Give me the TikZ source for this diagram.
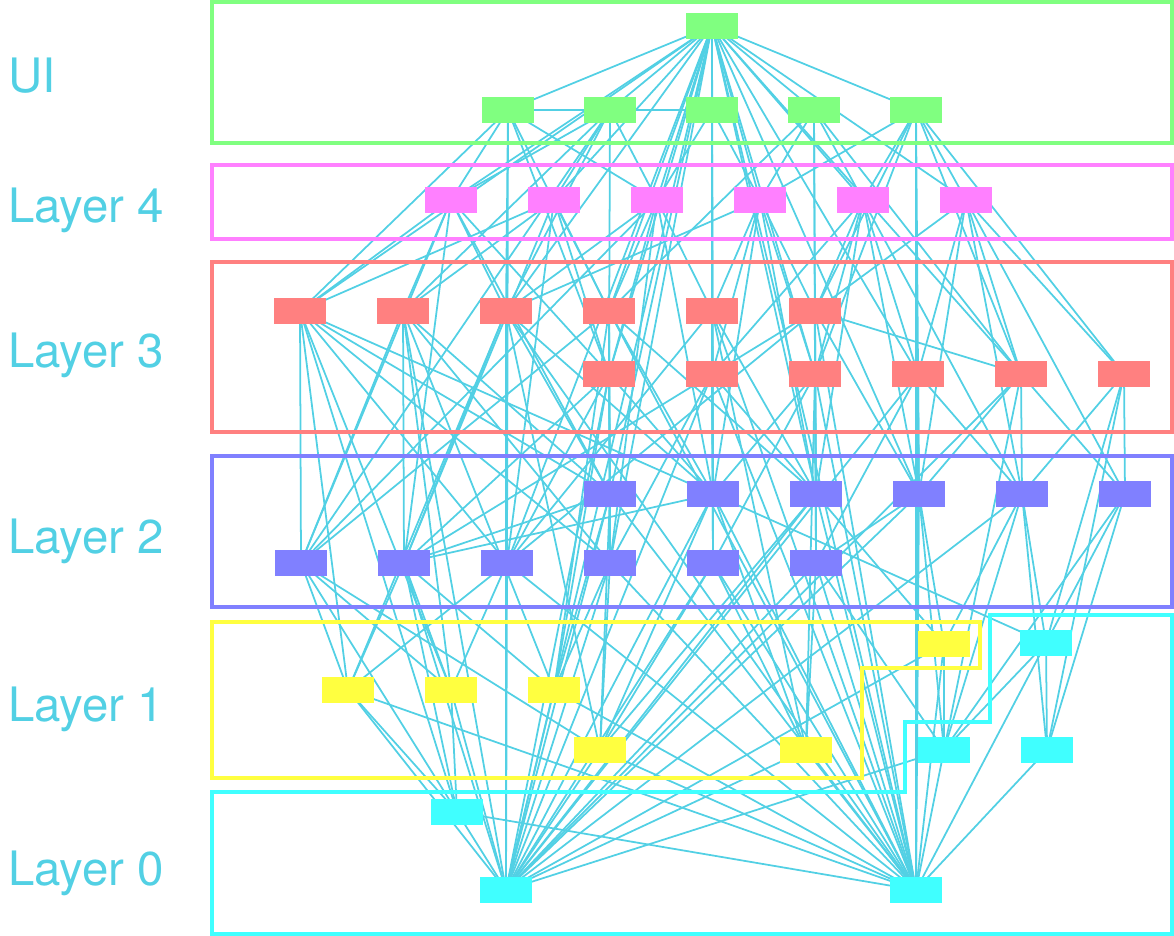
\documentclass[tikz,border=0pt]{standalone}
\usepackage{fontspec}
\setmainfont{TeX Gyre Heros}
\usepackage{tikz}
\pgfdeclarelayer{background}
\pgfsetlayers{background,main}

\definecolor{linkcol}{RGB}{82,208,228}
\definecolor{uicol}{RGB}{128,255,128}
\definecolor{lfourcol}{RGB}{255,128,255}
\definecolor{lthreecol}{RGB}{255,128,128}
\definecolor{ltwocol}{RGB}{128,128,255}
\definecolor{lonecol}{RGB}{255,255,64}
\definecolor{lzerocol}{RGB}{64,255,255}

\begin{document}
\begin{tikzpicture}[x=0.02cm, y=-0.02cm,
    mod/.style={rectangle, minimum width=1.04cm, minimum height=0.52cm, inner sep=0pt},
    frame/.style={line width=0.075cm},
    link/.style={draw=linkcol, line width=1pt},
    layerlabel/.style={anchor=base west, inner sep=0pt, text=linkcol, font=\fontsize{27}{30}\selectfont}]
  \useasboundingbox (0,0) rectangle (1174,936);

  % Layer frames
  \draw[frame, uicol] (212,2) rectangle (1172,143);
  \draw[frame, lfourcol] (212,165) rectangle (1172,239);
  \draw[frame, lthreecol] (212,262) rectangle (1172,432);
  \draw[frame, ltwocol] (212,456) rectangle (1172,607);
  \draw[frame, lonecol] (212,622) -- (980,622) -- (980,668) -- (862,668)
    -- (862,778) -- (212,778) -- cycle;
  \draw[frame, lzerocol] (212,792) -- (905,792) -- (905,722) -- (990,722)
    -- (990,615) -- (1172,615) -- (1172,934) -- (212,934) -- cycle;

  % Labels
  \node[layerlabel] (lui) at (8,93) {UI};
  \node[layerlabel] (lfour) at (8,222) {Layer 4};
  \node[layerlabel] (lthree) at (8,367) {Layer 3};
  \node[layerlabel] (ltwo) at (8,553) {Layer 2};
  \node[layerlabel] (lone) at (8,721) {Layer 1};
  \node[layerlabel] (lzero) at (8,885) {Layer 0};

  % UI
  \node[mod, fill=uicol] (u0) at (712,26) {};
  \foreach \i/\x in {1/508,2/610,3/712,4/814,5/916}
    \node[mod, fill=uicol] (u\i) at (\x,110) {};

  % Layer 4
  \foreach \i/\x in {1/451,2/554,3/657,4/760,5/863,6/966}
    \node[mod, fill=lfourcol] (f\i) at (\x,200) {};

  % Layer 3
  \foreach \i/\x in {1/300,2/403,3/506,4/609,5/712,6/815}
    \node[mod, fill=lthreecol] (t\i) at (\x,311) {};
  \foreach \i/\x in {7/609,8/712,9/815,10/918,11/1021,12/1124}
    \node[mod, fill=lthreecol] (t\i) at (\x,374) {};

  % Layer 2
  \foreach \i/\x in {7/610,8/713,9/816,10/919,11/1022,12/1125}
    \node[mod, fill=ltwocol] (s\i) at (\x,494) {};
  \foreach \i/\x in {1/301,2/404,3/507,4/610,5/713,6/816}
    \node[mod, fill=ltwocol] (s\i) at (\x,563) {};

  % Layer 1
  \node[mod, fill=lonecol] (y1) at (348,690) {};
  \node[mod, fill=lonecol] (y2) at (451,690) {};
  \node[mod, fill=lonecol] (y3) at (554,690) {};
  \node[mod, fill=lonecol] (y4) at (600,750) {};
  \node[mod, fill=lonecol] (y5) at (806,750) {};
  \node[mod, fill=lonecol] (y6) at (944,644) {};

  % Layer 0
  \node[mod, fill=lzerocol] (z1) at (1046,643) {};
  \node[mod, fill=lzerocol] (z2) at (944,750) {};
  \node[mod, fill=lzerocol] (z3) at (1047,750) {};
  \node[mod, fill=lzerocol] (z4) at (457,812) {};
  \node[mod, fill=lzerocol] (z5) at (506,890) {};
  \node[mod, fill=lzerocol] (z6) at (916,890) {};

  % Dependencies
  \begin{pgfonlayer}{background}
    \foreach \src/\dsts in {
        u0/{u1,u2,u3,u4,u5,f1,f2,f3,f4,f5,f6,t1,t3,t4,t5,t7,t8,t9,t10,t11,s3,s4,s7,s8,s9,s10,z5,z6},
        u1/{u3,f1,f3,t1,t3,t4,t7,s3},
        u2/{f1,f2,f3,t2,t3,t7,s1},
        u3/{f3,f4,t5,t8,s8},
        u4/{f4,f5,t4,t6,t9,t11},
        u5/{f4,f5,f6,t6,t9,t11,t12,s10,z6},
        f1/{t1,t2,t3,t7,s1,s2,s7},
        f2/{t1,t2,t4,t7,s2,s3},
        f3/{t3,t4,t5,t7,s1,s4,s8},
        f4/{t3,t5,t6,t8,t9,s8,s9},
        f5/{t6,t8,t9,t10,s9,s10,s11},
        f6/{t6,t10,t11,t12,s10,s11,s12},
        t1/{s1,s3,s4,s7,s8,y1,y2,z4},
        t2/{s1,s2,s4,s7,y2,y3,z5},
        t3/{s2,s3,s7,s8,y1,y4,z5,z6},
        t4/{s1,s4,s7,s8,s9,y3,z6},
        t5/{t8,s3,s5,s8,s9,y5,z6},
        t6/{t11,s2,s3,s6,s9,s10,z6},
        t7/{s2,s3,s4,s7,s8,y3,z5},
        t8/{s4,s5,s8,s9,z5,z6},
        t9/{s5,s6,s8,s9,y5,z6},
        t10/{s6,s10,s11,z5,z6},
        t11/{s10,s11,s12,z2,z5},
        t12/{s11,s12,z1,z3},
        s7/{s2,s4,y3,y4,z5,z6},
        s8/{s2,s5,y4,y5,z1,z5,z6},
        s9/{s6,y4,y6,z5,z6},
        s10/{s6,y6,z2,z5,z6},
        s11/{y6,z1,z2,z3,z5},
        s12/{z1,z2,z3},
        s1/{y1,y2,y4,z4},
        s2/{y1,y2,y3,z4,z5},
        s3/{y1,y2,z5,z6},
        s4/{y3,y4,z5,z6},
        s5/{y4,y5,z5,z6},
        s6/{y5,z2,z5,z6},
        y1/{z4,z5,z6},
        y2/{z4,z5},
        y3/{z5,z6},
        y4/{z5,z6},
        y5/{z5,z6},
        y6/{z2,z5,z6},
        z1/{z2,z3,z6},
        z2/{z6},
        z3/{z6},
        z4/{z5,z6},
        z5/{z2}}
      \foreach \dst in \dsts
        \draw[link] (\src.center) -- (\dst.center);
  \end{pgfonlayer}
\end{tikzpicture}
\end{document}
